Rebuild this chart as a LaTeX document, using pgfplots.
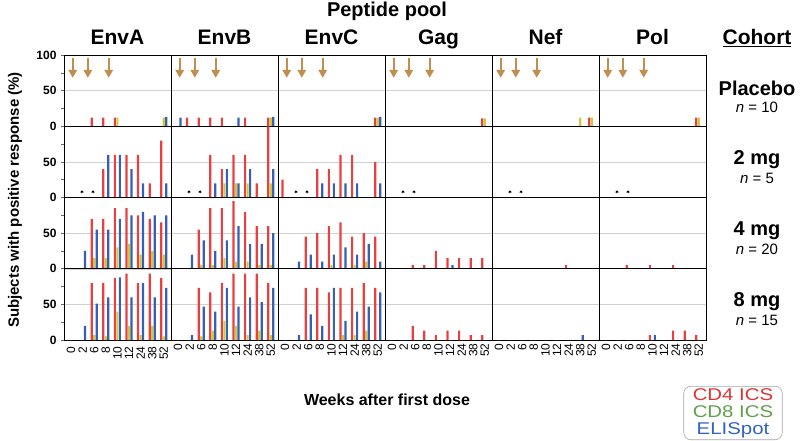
\documentclass[border=0pt]{standalone}
\usepackage{fontspec}
\setmainfont{Liberation Sans}
\newfontfamily\legfont[FakeStretch=1.2]{Liberation Sans}
\usepackage{pgfplots}
\pgfplotsset{compat=1.18}
\usepackage{pgfplotstable}
\usetikzlibrary{arrows.meta}

\definecolor{cdred}{RGB}{232,64,64}
\definecolor{cdyel}{RGB}{205,200,60}
\definecolor{cdblue}{RGB}{55,95,180}
\definecolor{arrowbrown}{RGB}{192,142,78}
\definecolor{legred}{RGB}{222,52,52}
\definecolor{leggreen}{RGB}{95,160,75}
\definecolor{legblue}{RGB}{50,100,190}

% weeks index: 0=0,1=2,2=6,3=8,4=10,5=12,6=24,7=38,8=52
\pgfplotstableread{
idx Ar Ay Ab Br By Bb Cr Cy Cb Gr Gy Gb Nr Ny Nb Pr Py Pb
0 0 0 0 0 0 12 0 0 0 0 0 0 0 0 0 0 0 0
1 0 0 0 12 0 0 0 0 0 0 0 0 0 0 0 0 0 0
2 12 0 0 12 0 0 0 0 0 0 0 0 0 0 0 0 0 0
3 12 0 0 12 0 0 0 0 0 0 0 0 0 0 0 0 0 0
4 12 12 0 12 0 0 0 0 0 0 0 0 0 0 0 0 0 0
5 0 0 0 0 0 12 0 0 0 0 0 0 0 0 0 0 0 0
6 0 0 0 12 0 0 0 0 0 0 0 0 0 0 0 0 0 0
7 0 0 0 0 0 0 0 0 0 0 0 0 0 12 0 0 0 0
8 0 12 13 12 12 13 12 12 13 11 11 0 12 12 0 12 12 0
}\placebo

\pgfplotstableread{
idx Ar Ay Ab Br By Bb Cr Cy Cb Gr Gy Gb Nr Ny Nb Pr Py Pb
0 0 0 0 0 0 0 25 0 0 0 0 0 0 0 0 0 0 0
1 0 0 0 0 0 0 0 0 0 0 0 0 0 0 0 0 0 0
2 0 0 0 0 0 0 0 0 0 0 0 0 0 0 0 0 0 0
3 40 0 60 60 0 20 40 0 20 0 0 0 0 0 0 0 0 0
4 60 0 60 40 20 40 40 0 20 0 0 0 0 0 0 0 0 0
5 60 0 40 60 20 20 60 0 20 0 0 0 0 0 0 0 0 0
6 60 0 20 60 20 40 60 0 20 0 0 0 0 0 0 0 0 0
7 20 0 0 20 0 0 0 0 0 0 0 0 0 0 0 0 0 0
8 80 0 20 100 20 40 50 0 20 0 0 0 0 0 0 0 0 0
}\twomg

\pgfplotstableread{
idx Ar Ay Ab Br By Bb Cr Cy Cb Gr Gy Gb Nr Ny Nb Pr Py Pb
0 0 0 0 0 0 0 0 0 0 0 0 0 0 0 0 0 0 0
1 0 0 25 0 0 20 0 0 10 0 0 0 0 0 0 0 0 0
2 70 15 55 55 5 40 45 0 20 5 0 0 0 0 0 5 0 0
3 70 15 55 85 5 25 50 0 10 5 0 0 0 0 0 0 0 0
4 85 30 70 85 15 40 60 5 20 25 0 0 0 0 0 5 0 0
5 85 35 75 95 10 60 65 0 30 15 0 5 0 0 0 0 0 0
6 75 20 80 80 10 35 45 5 20 15 0 0 5 0 0 5 0 0
7 70 25 75 60 5 35 50 10 35 15 0 0 0 0 0 0 0 0
8 65 20 75 60 5 50 45 0 10 15 0 0 0 0 0 0 0 0
}\fourmg

\pgfplotstableread{
idx Ar Ay Ab Br By Bb Cr Cy Cb Gr Gy Gb Nr Ny Nb Pr Py Pb
0 0 0 0 0 0 0 0 0 0 0 0 0 0 0 0 0 0 0
1 0 0 20 0 0 7 0 0 7 0 0 0 0 0 0 0 0 0
2 80 7 51 73 5 47 73 0 36 20 0 0 0 0 0 0 0 0
3 80 5 60 67 13 40 73 0 20 13 0 0 0 0 0 0 0 0
4 87 40 88 80 27 73 67 0 73 7 0 0 0 0 0 7 0 7
5 93 20 60 93 20 47 73 7 27 13 0 0 0 0 0 0 0 0
6 80 7 80 93 7 60 73 7 40 13 0 0 0 0 0 13 0 0
7 93 20 60 93 13 53 80 13 47 7 0 0 0 0 7 13 0 0
8 87 5 73 80 7 73 73 0 67 7 0 0 0 0 0 7 0 0
}\eightmg

\pgfplotsset{
  panel/.style={
    scale only axis, width=107pt, height=71.25pt, anchor=south west,
    xmin=-0.6, xmax=8.62, ymin=0, ymax=100,
    axis line style={black, line width=0.9pt},
    xtick=\empty, ytick={50}, yticklabels={},
    ymajorgrids, grid style={black!18, line width=0.5pt},
    major tick length=0pt, minor tick length=0pt,
    /pgf/number format/assume math mode=true,
    ticklabel style={font=\fontsize{12}{12}\selectfont\bfseries},
  },
  leftcol/.style={
    ytick={0,50,100}, minor ytick={25,75}, ytick pos=left, tick align=outside,
    major tick length=3pt, minor tick length=3pt,
    every tick/.style={black!60, line width=0.6pt},
    yticklabel style={xshift=-1pt},
  },
  bottomrow/.style={
    xtick={0,...,8}, xticklabels={0,2,6,8,10,12,24,38,52},
    xtick style={draw=none},
    xticklabel style={rotate=90, anchor=east, font=\fontsize{12}{12}\selectfont, xshift=0pt},
  },
  vbar/.style={ybar, bar width=2.2pt, draw=none},
}

\newcommand{\panel}[6]{%
\begin{axis}[panel, at={(64pt+107pt*#1, 313.75pt-71.25pt*#2)}, #5]
\addplot[vbar, bar shift=-2.5pt, fill=cdred] table[x=idx, y=#4r] {#3};
\addplot[vbar, bar shift=0pt, fill=cdyel] table[x=idx, y=#4y] {#3};
\addplot[vbar, bar shift=2.5pt, fill=cdblue] table[x=idx, y=#4b] {#3};
#6
\end{axis}}

\newcommand{\arrows}{%
\addplot[arrowbrown, line width=1.8pt, -{Triangle[width=8.5pt,length=8pt]}] coordinates {(0.15,96) (0.15,68)};
\addplot[arrowbrown, line width=1.8pt, -{Triangle[width=8.5pt,length=8pt]}] coordinates {(1.45,96) (1.45,68)};
\addplot[arrowbrown, line width=1.8pt, -{Triangle[width=8.5pt,length=8pt]}] coordinates {(3.25,96) (3.25,68)};
}
\newcommand{\stars}{%
\addplot[only marks, mark=asterisk, mark size=1.5pt, black, line width=0.5pt] coordinates {(0.95,8) (1.9,8)};
}

\begin{document}
\begin{tikzpicture}
\path[use as bounding box] (0,0) rectangle (800pt,440pt);

% row 0 placebo
\panel{0}{0}{\placebo}{A}{leftcol, yticklabels={0,50,100}}{\arrows}
\panel{1}{0}{\placebo}{B}{}{\arrows}
\panel{2}{0}{\placebo}{C}{}{\arrows}
\panel{3}{0}{\placebo}{G}{}{\arrows}
\panel{4}{0}{\placebo}{N}{}{\arrows}
\panel{5}{0}{\placebo}{P}{}{\arrows}
% row 1 2 mg
\panel{0}{1}{\twomg}{A}{leftcol, yticklabels={0,50,}}{\stars}
\panel{1}{1}{\twomg}{B}{}{\stars}
\panel{2}{1}{\twomg}{C}{}{\stars}
\panel{3}{1}{\twomg}{G}{}{\stars}
\panel{4}{1}{\twomg}{N}{}{\stars}
\panel{5}{1}{\twomg}{P}{}{\stars}
% row 2 4 mg
\panel{0}{2}{\fourmg}{A}{leftcol, yticklabels={0,50,}}{}
\panel{1}{2}{\fourmg}{B}{}{}
\panel{2}{2}{\fourmg}{C}{}{}
\panel{3}{2}{\fourmg}{G}{}{}
\panel{4}{2}{\fourmg}{N}{}{}
\panel{5}{2}{\fourmg}{P}{}{}
% row 3 8 mg
\panel{0}{3}{\eightmg}{A}{leftcol, yticklabels={0,50,}, bottomrow}{}
\panel{1}{3}{\eightmg}{B}{bottomrow}{}
\panel{2}{3}{\eightmg}{C}{bottomrow}{}
\panel{3}{3}{\eightmg}{G}{bottomrow}{}
\panel{4}{3}{\eightmg}{N}{bottomrow}{}
\panel{5}{3}{\eightmg}{P}{bottomrow}{}

% titles
\node[font=\fontsize{20}{22}\selectfont\bfseries] at (387pt,429pt) {Peptide pool};
\foreach \t [count=\i from 0] in {EnvA,EnvB,EnvC,Gag,Nef,Pol}
  \node[font=\fontsize{21}{23}\selectfont\bfseries, anchor=base] at (117.5pt+107pt*\i,395pt) {\t};
\node[font=\fontsize{21}{23}\selectfont\bfseries, anchor=base] at (757pt,395pt) {\underline{Cohort}};

% cohort labels
\node[font=\fontsize{20}{22}\selectfont\bfseries] at (757pt,352pt) {Placebo};
\node[font=\fontsize{15}{17}\selectfont] at (757pt,333pt) {\textit{n} = 10};
\node[font=\fontsize{20}{22}\selectfont\bfseries] at (757pt,280pt) {2 mg};
\node[font=\fontsize{15}{17}\selectfont] at (757pt,262pt) {\textit{n} = 5};
\node[font=\fontsize{20}{22}\selectfont\bfseries] at (757pt,209pt) {4 mg};
\node[font=\fontsize{15}{17}\selectfont] at (757pt,191pt) {\textit{n} = 20};
\node[font=\fontsize{20}{22}\selectfont\bfseries] at (757pt,138pt) {8 mg};
\node[font=\fontsize{15}{17}\selectfont] at (757pt,120pt) {\textit{n} = 15};

% axis labels
\node[font=\fontsize{15}{17}\selectfont\bfseries, rotate=90] at (15pt,240pt) {Subjects with positive response (\%)};
\node[font=\fontsize{16}{18}\selectfont\bfseries] at (387pt,40pt) {Weeks after first dose};

% legend
\node[draw=black!35, line width=0.6pt, rounded corners=7pt, align=center, inner xsep=9pt, inner ysep=2pt,
      font=\legfont\fontsize{17}{17}\selectfont, anchor=north] at (733pt,54pt)
  {\textcolor{legred}{CD4 ICS}\\\textcolor{leggreen}{CD8 ICS}\\\textcolor{legblue}{ELISpot}};
\end{tikzpicture}
\end{document}
